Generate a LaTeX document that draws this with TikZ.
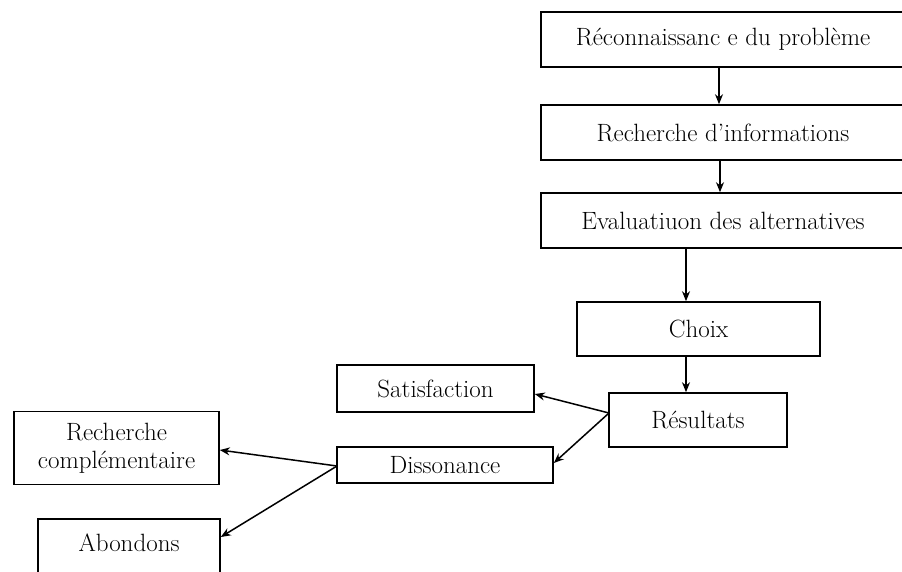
\documentclass[tikz,border=0pt]{standalone}
\usetikzlibrary{arrows.meta}
\begin{document}
\begin{tikzpicture}[x=1pt,y=-1pt,
  label text/.style={font=\fontsize{25}{28}\selectfont},
  box/.style={draw, line width=1.6pt, inner sep=0pt, align=center, label text},
  link/.style={line width=1.5pt, -{Stealth[length=10pt,width=8pt]}}]
\useasboundingbox (0,0) rectangle (902,571);
\clip (0,0) rectangle (902,571);

% main decision chain
\node[box, minimum width=364pt, minimum height=55pt] (rec) at (723,39.5) {R\'econnaissanc e du probl\`eme};
\node[box, minimum width=364pt, minimum height=55pt] (info) at (723,132.5) {Recherche d'informations};
\node[box, minimum width=364pt, minimum height=55pt] (eval) at (723,220.5) {Evaluatiuon des alternatives};
\node[box, minimum width=243pt, minimum height=54pt] (choix) at (698.5,329) {Choix};
\node[box, minimum width=178pt, minimum height=54pt] (res) at (698,420) {R\'esultats};

% outcomes
\node[box, minimum width=197pt, minimum height=47pt] (sat) at (435.5,388.5) {Satisfaction};
\node[box, minimum width=216pt, minimum height=36pt] (diss) at (445,465) {Dissonance};
\node[box, minimum width=205pt, minimum height=73pt] (comp) at (116.5,448) {Recherche\\compl\'ementaire};
\node[box, minimum width=182pt, minimum height=62pt] (abon) at (129,550) {};
\node[label text] (abont) at (129,543) {Abondons};

% connectors
\draw[link] (rec.south -| 719,0) -- (info.north -| 719,0);
\draw[link] (info.south -| 720,0) -- (eval.north -| 720,0);
\draw[link] (eval.south -| 686,0) -- (choix.north -| 686,0);
\draw[link] (choix.south -| 686,0) -- (res.north -| 686,0);
\coordinate (resw) at (609,413);
\draw[link] (resw) -- (sat.east |- 0,394);
\draw[link] (resw) -- (diss.east |- 0,463);
\coordinate (dissw) at (337,466);
\draw[link] (dissw) -- (comp.east |- 0,450);
\draw[link] (dissw) -- (abon.east |- 0,537);
\end{tikzpicture}
\end{document}
